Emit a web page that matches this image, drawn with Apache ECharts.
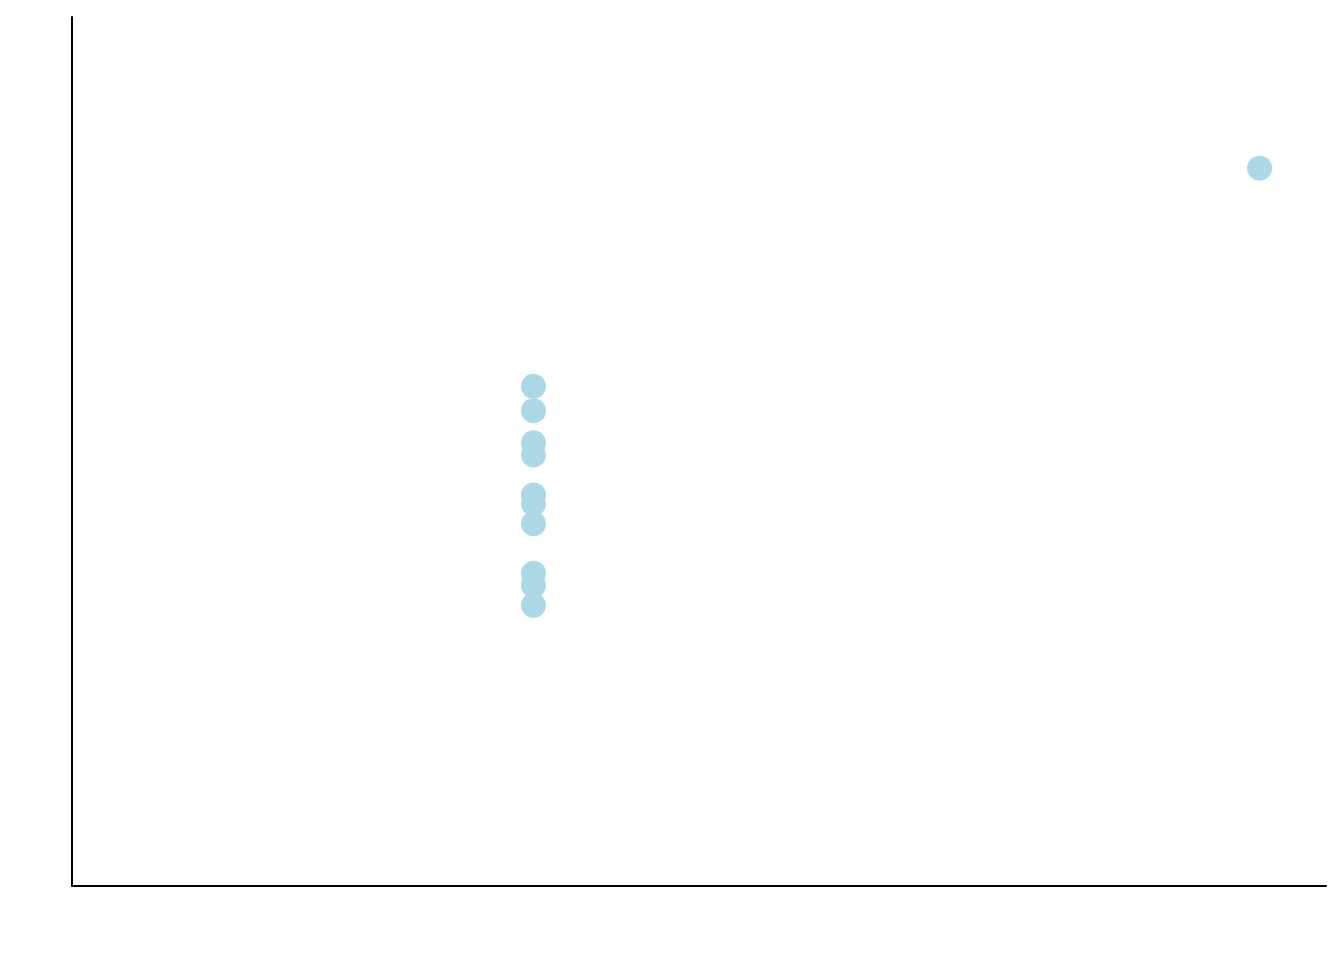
<!DOCTYPE html>
<html>
<head>
<meta charset="utf-8">
<script src="https://cdn.jsdelivr.net/npm/echarts@6/dist/echarts.min.js"></script>
<style>
  html, body { margin: 0; padding: 0; background: #fff; }
  #chart { width: 1344px; height: 960px; }
</style>
</head>
<body>
<div id="chart"></div>
<script>
// valores (escala 0-100 en ambos ejes)
const xValues = [36.8, 36.8, 36.8, 36.8, 36.8, 36.8, 36.8, 36.8, 36.8, 36.8, 94.7];
const yValues = [57.5, 54.7, 51.0, 49.6, 45.0, 44.0, 41.7, 36.0, 34.6, 32.3, 82.6];

const puntos = xValues.map((x, i) => [x, yValues[i]]);

const chart = echarts.init(document.getElementById('chart'));

const ejeBase = {
  type: 'value',
  min: 0,
  max: 100,
  axisLine: { show: true, lineStyle: { color: '#000', width: 2 } },
  axisTick: { show: false },
  axisLabel: { show: false },
  splitLine: { show: false }
};

chart.setOption({
  animation: false,
  grid: { left: 72, right: 18, top: 17, bottom: 74 },
  xAxis: Object.assign({}, ejeBase),
  yAxis: Object.assign({}, ejeBase),
  series: [{
    type: 'scatter',
    symbolSize: 25,
    itemStyle: { color: '#ADD8E6', opacity: 1 },
    data: puntos
  }]
});
</script>
</body>
</html>
